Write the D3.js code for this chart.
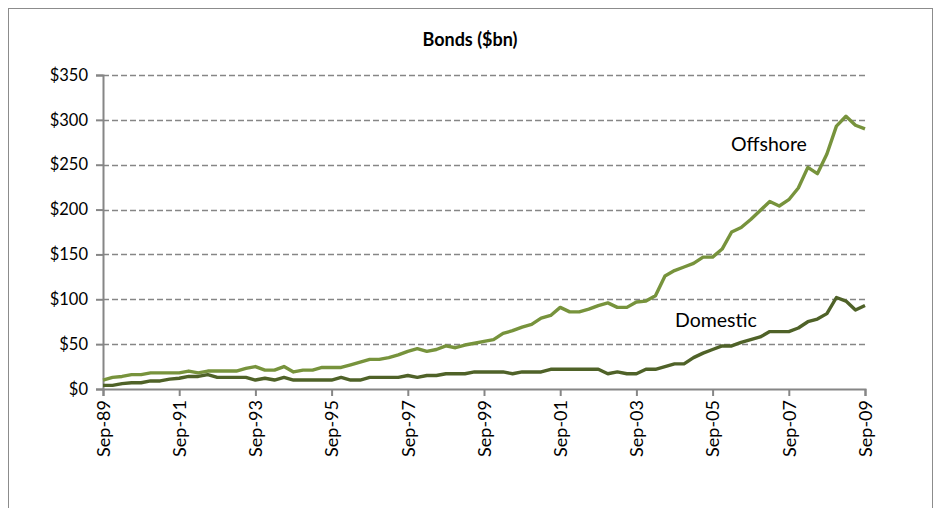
<!DOCTYPE html>
<html>
<head>
<meta charset="utf-8">
<script src="https://cdn.jsdelivr.net/npm/d3@7"></script>
<style>
  body { margin: 0; background: #fff; }
  text { font-family: Lato, "Open Sans", sans-serif; fill: #000; }
</style>
</head>
<body>
<div id="chart"></div>
<script>
// quarterly, Sep-89 .. Sep-09
var quarters = d3.timeMonth.range(new Date(1989, 8, 1), new Date(2009, 9, 1), 3)
var fmt = d3.timeFormat("%b-%y")

var offshore = [10, 13, 14, 16, 16, 18, 18, 18, 18, 20, 18, 20, 20, 20, 20, 23, 25, 21, 21, 25,
	19, 21, 21, 24, 24, 24, 27, 30, 33, 33, 35, 38, 42, 45, 42, 44, 48, 46, 49, 51,
	53, 55, 62, 65, 69, 72, 79, 82, 91, 86, 86, 89, 93, 96, 91, 91, 97, 98, 104, 126,
	132, 136, 140, 147, 147, 156, 175, 180, 189, 199, 209, 204, 211, 224, 247, 240, 262, 293, 304, 294,
	290]

var domestic = [4, 4, 6, 7, 7, 9, 9, 11, 12, 14, 14, 16, 13, 13, 13, 13, 10, 12, 10, 13,
	10, 10, 10, 10, 10, 13, 10, 10, 13, 13, 13, 13, 15, 13, 15, 15, 17, 17, 17, 19,
	19, 19, 19, 17, 19, 19, 19, 22, 22, 22, 22, 22, 22, 17, 19, 17, 17, 22, 22, 25,
	28, 28, 35, 40, 44, 48, 48, 52, 55, 58, 64, 64, 64, 68, 75, 78, 84, 102, 98, 88,
	93]

var yTicks = [0, 50, 100, 150, 200, 250, 300, 350]

var width = 938,
	height = 508

var svg = d3.select("#chart")
	.append("svg")
	.attr("width", width)
	.attr("height", height)

// chart frame
svg.append("rect")
	.attr("x", 8.5)
	.attr("y", 8.5)
	.attr("width", 924)
	.attr("height", 520)
	.attr("fill", "none")
	.attr("stroke", "#8c8c8c")

var labels = quarters.map(function(d) { return fmt(d) })

var x = d3.scalePoint()
	.domain(labels)
	.range([103, 865])

var y = d3.scaleLinear()
	.domain([0, 350])
	.range([389, 75])

svg.append("text")
	.attr("x", 470)
	.attr("y", 46)
	.attr("text-anchor", "middle")
	.style("font-weight", "bold")
	.style("font-size", "18px")
	.text("Bonds ($bn)")

// gridlines
svg.append("g")
	.selectAll("line")
	.data(yTicks.filter(function(d) { return d > 0 }))
	.enter().append("line")
	.attr("x1", 103)
	.attr("x2", 865)
	.attr("y1", function(d) { return Math.round(y(d)) + 0.5 })
	.attr("y2", function(d) { return Math.round(y(d)) + 0.5 })
	.attr("stroke", "#868686")
	.attr("stroke-width", 1.3)
	.attr("stroke-dasharray", "6,3")

// y axis
var yAxis = svg.append("g")
	.attr("transform", "translate(103,0)")
	.call(d3.axisLeft(y)
		.tickValues(yTicks)
		.tickSize(7)
		.tickPadding(8)
		.tickFormat(function(d) { return "$" + d }))

yAxis.selectAll("text")
	.style("font-size", "16.5px")
	.style("font-family", "Lato, sans-serif")
	.attr("fill", "#000")

// x axis
var xAxis = svg.append("g")
	.attr("transform", "translate(0,389)")
	.call(d3.axisBottom(x)
		.tickValues(labels.filter(function(d, i) { return i % 8 == 0 }))
		.tickSize(7)
		.tickPadding(10))

xAxis.selectAll("text")
	.style("font-size", "18px")
	.style("font-family", "Lato, sans-serif")
	.attr("fill", "#000")
	.attr("text-anchor", "end")
	.attr("transform", "rotate(-90)")
	.attr("x", -11)
	.attr("y", 0)
	.attr("dy", "0.35em")

svg.selectAll(".domain, .tick line")
	.attr("stroke", "#868686")
	.attr("stroke-width", 2)

var line = d3.line()
	.x(function(d, i) { return x(labels[i]) })
	.y(function(d) { return y(d) })

svg.append("path")
	.datum(offshore)
	.attr("fill", "none")
	.attr("stroke", "#77933c")
	.attr("stroke-width", 3.4)
	.attr("stroke-linejoin", "round")
	.attr("d", line)

svg.append("path")
	.datum(domestic)
	.attr("fill", "none")
	.attr("stroke", "#4f6228")
	.attr("stroke-width", 3.4)
	.attr("stroke-linejoin", "round")
	.attr("d", line)

svg.append("text")
	.attr("x", 731)
	.attr("y", 151)
	.style("font-size", "19.5px")
	.text("Offshore")

svg.append("text")
	.attr("x", 675)
	.attr("y", 327)
	.style("font-size", "19.5px")
	.text("Domestic")
</script>
</body>
</html>
